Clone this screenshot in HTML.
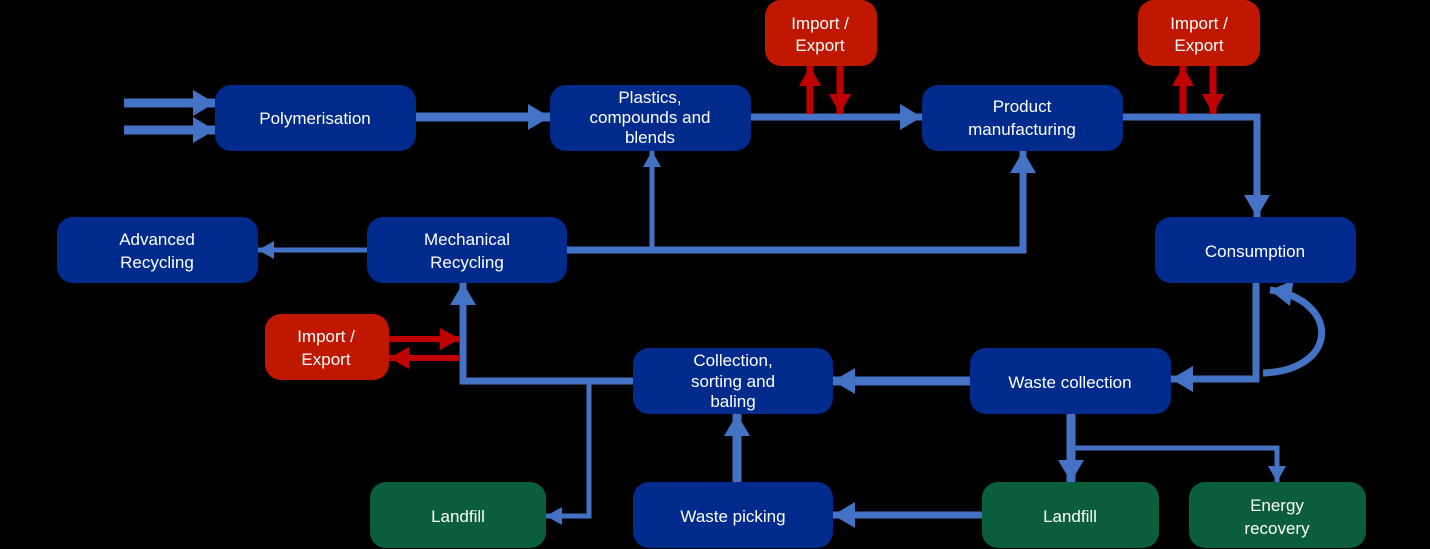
<!DOCTYPE html>
<html><head><meta charset="utf-8"><style>
html,body{margin:0;padding:0;background:#000;}
svg{display:block}
text{font-family:"Liberation Sans",sans-serif;font-size:17px;fill:#fff;text-anchor:middle}
</style></head><body>
<svg width="1430" height="549" viewBox="0 0 1430 549">
<rect width="1430" height="549" fill="#000"/>
<defs>
<marker id="bh" markerUnits="userSpaceOnUse" markerWidth="24" markerHeight="26" refX="22" refY="13" orient="auto"><path d="M0,0 L22,13 L0,26 Z" fill="#4472C4"/></marker>
<marker id="bs" markerUnits="userSpaceOnUse" markerWidth="18" markerHeight="18" refX="16" refY="9" orient="auto"><path d="M0,0 L16,9 L0,18 Z" fill="#4472C4"/></marker>
<marker id="rh" markerUnits="userSpaceOnUse" markerWidth="22" markerHeight="22" refX="20" refY="11" orient="auto"><path d="M0,0 L20,11 L0,22 Z" fill="#C00000"/></marker>
</defs>
<g stroke="#4472C4" fill="none">
<line x1="124" y1="103" x2="215" y2="103" stroke-width="9" marker-end="url(#bh)"/>
<line x1="124" y1="130" x2="215" y2="130" stroke-width="9" marker-end="url(#bh)"/>
<line x1="416" y1="117" x2="550" y2="117" stroke-width="9" marker-end="url(#bh)"/>
<line x1="751" y1="117" x2="922" y2="117" stroke-width="7" marker-end="url(#bh)"/>
<polyline points="1123,117 1257,117 1257,217" stroke-width="7" marker-end="url(#bh)"/>
<line x1="367" y1="250" x2="258" y2="250" stroke-width="5" marker-end="url(#bs)"/>
<polyline points="567,250 1023,250 1023,151" stroke-width="7" marker-end="url(#bh)"/>
<line x1="652" y1="250" x2="652" y2="151" stroke-width="5" marker-end="url(#bs)"/>
<polyline points="1256,283 1256,379 1171,379" stroke-width="7" marker-end="url(#bh)"/>
<path d="M1263,373 C1340,370 1340,300 1270,290" stroke-width="7" marker-end="url(#bh)"/>
<line x1="970" y1="381" x2="833" y2="381" stroke-width="9" marker-end="url(#bh)"/>
<polyline points="633,381 463,381 463,283" stroke-width="7" marker-end="url(#bh)"/>
<polyline points="589,381 589,516 546,516" stroke-width="5" marker-end="url(#bs)"/>
<line x1="1071" y1="414" x2="1071" y2="482" stroke-width="9" marker-end="url(#bh)"/>
<polyline points="1071,448 1277,448 1277,482" stroke-width="5" marker-end="url(#bs)"/>
<line x1="982" y1="515" x2="833" y2="515" stroke-width="7" marker-end="url(#bh)"/>
<line x1="737" y1="482" x2="737" y2="414" stroke-width="9" marker-end="url(#bh)"/>
</g>
<g stroke="#C00000" fill="none" stroke-width="7">
<line x1="810" y1="114" x2="810" y2="66" marker-end="url(#rh)"/>
<line x1="840" y1="66" x2="840" y2="114" marker-end="url(#rh)"/>
<line x1="1183" y1="114" x2="1183" y2="66" marker-end="url(#rh)"/>
<line x1="1213" y1="66" x2="1213" y2="114" marker-end="url(#rh)"/>
<line x1="389" y1="339" x2="460" y2="339" stroke-width="6" marker-end="url(#rh)"/>
<line x1="460" y1="358" x2="389" y2="358" stroke-width="6" marker-end="url(#rh)"/>
</g>
<g fill="#002A8C">
<rect x="215" y="85" width="201" height="66" rx="16"/>
<rect x="550" y="85" width="201" height="66" rx="16"/>
<rect x="922" y="85" width="201" height="66" rx="16"/>
<rect x="57" y="217" width="201" height="66" rx="16"/>
<rect x="367" y="217" width="200" height="66" rx="16"/>
<rect x="1155" y="217" width="201" height="66" rx="16"/>
<rect x="633" y="348" width="200" height="66" rx="16"/>
<rect x="970" y="348" width="201" height="66" rx="16"/>
<rect x="633" y="482" width="200" height="66" rx="16"/>
</g>
<g fill="#C01800">
<rect x="765" y="0" width="112" height="66" rx="16"/>
<rect x="1138" y="0" width="122" height="66" rx="16"/>
<rect x="265" y="314" width="124" height="66" rx="16"/>
</g>
<g fill="#0B5E3C">
<rect x="370" y="482" width="176" height="66" rx="16"/>
<rect x="982" y="482" width="177" height="66" rx="16"/>
<rect x="1189" y="482" width="177" height="66" rx="16"/>
</g>
<text x="315" y="124">Polymerisation</text>
<text x="650" y="103">Plastics,</text>
<text x="650" y="123">compounds and</text>
<text x="650" y="143">blends</text>
<text x="1022" y="112">Product</text>
<text x="1022" y="135">manufacturing</text>
<text x="820" y="29">Import /</text>
<text x="820" y="51">Export</text>
<text x="1199" y="29">Import /</text>
<text x="1199" y="51">Export</text>
<text x="157" y="245">Advanced</text>
<text x="157" y="268">Recycling</text>
<text x="467" y="245">Mechanical</text>
<text x="467" y="268">Recycling</text>
<text x="1255" y="257">Consumption</text>
<text x="326" y="342">Import /</text>
<text x="326" y="365">Export</text>
<text x="733" y="366">Collection,</text>
<text x="733" y="387">sorting and</text>
<text x="733" y="407">baling</text>
<text x="1070" y="388">Waste collection</text>
<text x="458" y="522">Landfill</text>
<text x="733" y="522">Waste picking</text>
<text x="1070" y="522">Landfill</text>
<text x="1277" y="511">Energy</text>
<text x="1277" y="534">recovery</text>
</svg>
</body></html>
